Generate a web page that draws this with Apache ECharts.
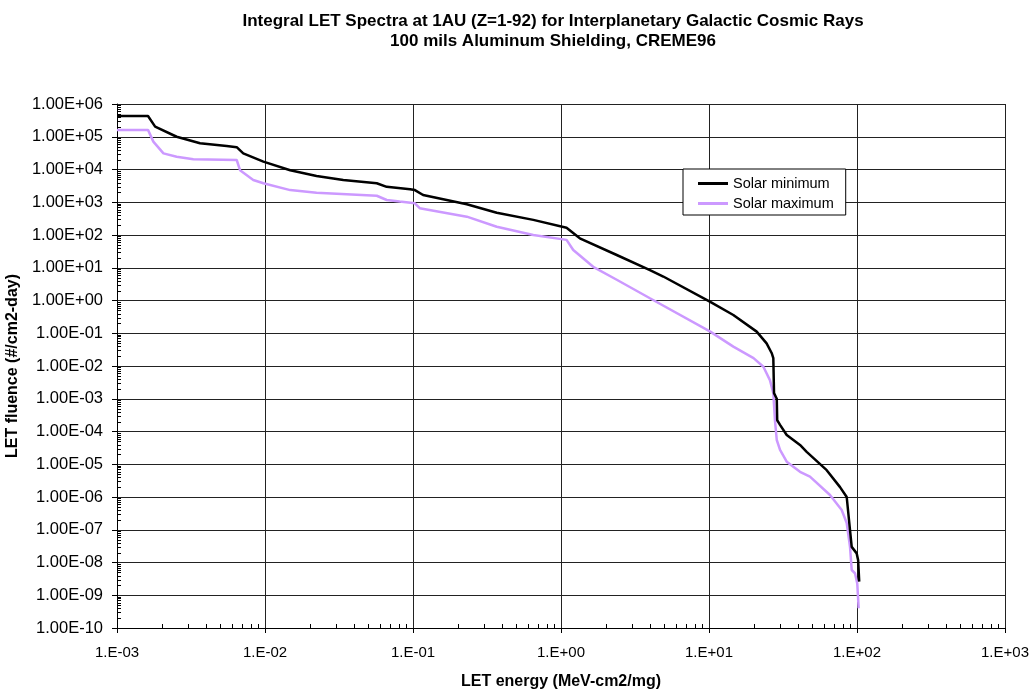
<!DOCTYPE html>
<html>
<head>
<meta charset="utf-8">
<script src="https://cdn.jsdelivr.net/npm/echarts@6/dist/echarts.min.js"></script>
<style>
html,body{margin:0;padding:0;background:#fff;}
#chart{width:1032px;height:691px;}
</style>
</head>
<body>
<div id="chart"></div>
<script>
// ---- data ----
var titleLines = ['Integral LET Spectra at 1AU (Z=1-92) for Interplanetary Galactic Cosmic Rays', '100 mils Aluminum Shielding, CREME96'];
var xAxisTitle = 'LET energy (MeV-cm2/mg)';
var yAxisTitle = 'LET fluence (#/cm2-day)';
var seriesNames = ['Solar minimum', 'Solar maximum'];

var xTickLabels = ['1.E-03', '1.E-02', '1.E-01', '1.E+00', '1.E+01', '1.E+02', '1.E+03'];
var yTickLabels = ['1.00E-10', '1.00E-09', '1.00E-08', '1.00E-07', '1.00E-06', '1.00E-05', '1.00E-04', '1.00E-03',
  '1.00E-02', '1.00E-01', '1.00E+00', '1.00E+01', '1.00E+02', '1.00E+03', '1.00E+04', '1.00E+05', '1.00E+06'];

var minX = [0.001, 0.00162, 0.00181, 0.00253, 0.00364, 0.00551, 0.00644, 0.00713, 0.00975, 0.0148, 0.0223, 0.0338,
  0.0569, 0.0664, 0.0955, 0.103, 0.117, 0.231, 0.368, 0.650, 1.09, 1.34, 2.38, 3.99, 4.91, 10.2, 14.6, 21.0, 24.5,
  26.5, 27.2, 27.5, 28.7, 28.9, 30.2, 33.5, 41.2, 45.7, 62.4, 76.8, 85.2, 89.7, 92.1, 99.5, 101.8, 103.5];
var minY = [4.3e5, 4.3e5, 2.04e5, 1.0e5, 6.3e4, 5.25e4, 4.8e4, 3.1e4, 1.74e4, 9.5e3, 6.3e3, 4.8e3,
  3.8e3, 2.95e3, 2.5e3, 2.35e3, 1.66e3, 870, 480, 290, 166, 79, 24.5, 8.5, 5.4, 0.91, 0.36, 0.112, 0.049,
  0.025, 0.0174, 1.48e-3, 1.0e-3, 2.2e-4, 1.6e-4, 7.8e-5, 3.9e-5, 2.4e-5, 6.6e-6, 2.0e-6, 1.0e-6, 9.8e-8, 3.0e-8, 1.9e-8, 1.17e-8, 2.6e-9];

var maxX = [0.001, 0.00162, 0.00176, 0.00206, 0.00253, 0.00328, 0.00644, 0.00678, 0.00833, 0.00975, 0.0148, 0.0223,
  0.0569, 0.0664, 0.0813, 0.103, 0.111, 0.231, 0.368, 0.650, 1.09, 1.21, 1.65, 2.38, 3.99, 10.2, 14.6, 20.0, 23.3,
  25.8, 27.2, 27.9, 28.7, 30.2, 33.5, 41.2, 48.1, 65.7, 78.8, 85.2, 89.7, 92.1, 96.9, 100.4, 102.6];
var maxY = [1.62e5, 1.62e5, 7.1e4, 3.1e4, 2.45e4, 2.04e4, 1.95e4, 9.5e3, 4.8e3, 3.8e3, 2.35e3, 1.95e3,
  1.58e3, 1.17e3, 1.05e3, 930, 660, 363, 178, 100, 71, 35, 10.7, 4.3, 1.17, 0.112, 0.039, 0.0174, 9.5e-3,
  3.7e-3, 1.48e-3, 2.2e-4, 5.5e-5, 2.75e-5, 1.2e-5, 5.9e-6, 4.2e-6, 1.15e-6, 4.0e-7, 1.6e-7, 3.0e-8, 5.9e-9, 4.7e-9, 2.3e-9, 4.0e-10];

var seriesColors = ['#000000', '#cc99ff'];

// ---- build ----
var X_MIN = 1e-3, X_MAX = 1e3, Y_MIN = 1e-10, Y_MAX = 1e6;
function pairs(xs, ys) { var out = []; for (var i = 0; i < xs.length; i++) out.push([xs[i], ys[i]]); return out; }

// minor tick values (2..9 within each decade) drawn through the axes' own scales
var minorTicks = [];
for (var d = -3; d < 3; d++) for (var m = 2; m <= 9; m++) minorTicks.push([m * Math.pow(10, d), Y_MIN, 0]);
for (var e = -10; e < 6; e++) for (var k = 2; k <= 9; k++) minorTicks.push([X_MIN, k * Math.pow(10, e), 1]);

function expIndex(v, base) { return Math.round(Math.log(v) / Math.LN10) - base; }

var FONT = 'Arial, "Liberation Sans", sans-serif';
var chart = echarts.init(document.getElementById('chart'), null, { renderer: 'canvas' });
chart.setOption({
  animation: false,
  backgroundColor: '#ffffff',
  textStyle: { fontFamily: FONT },
  title: {
    text: titleLines.join('\n'),
    left: 548, top: 6, textAlign: 'center',
    textStyle: { fontFamily: FONT, fontSize: 17, fontWeight: 'bold', color: '#000', lineHeight: 20 }
  },
  legend: {
    data: seriesNames,
    orient: 'vertical',
    left: 683, top: 169,
    padding: [7, 12, 4, 15],
    itemGap: 5,
    itemWidth: 30, itemHeight: 3,
    icon: 'rect',
    borderColor: '#000', borderWidth: 1,
    backgroundColor: '#fff',
    textStyle: { fontFamily: FONT, fontSize: 14.5, color: '#000' }
  },
  grid: { left: 117, right: 27, top: 104, bottom: 63, containLabel: false, outerBoundsMode: 'none' },
  xAxis: {
    type: 'log', logBase: 10, min: X_MIN, max: X_MAX, interval: 1, splitNumber: 6,
    name: xAxisTitle, nameLocation: 'middle', nameGap: 46,
    nameTextStyle: { fontFamily: FONT, fontSize: 16, fontWeight: 'bold', color: '#000' },
    axisLine: { show: true, lineStyle: { color: '#000', width: 1 } },
    axisTick: { show: true, inside: false, length: 5, lineStyle: { color: '#000' } },
    axisLabel: { margin: 17, fontFamily: FONT, fontSize: 15, color: '#000',
      formatter: function (v) { return xTickLabels[expIndex(v, -3)]; } },
    splitLine: { show: true, lineStyle: { color: '#222', width: 1 } }
  },
  yAxis: {
    type: 'log', logBase: 10, min: Y_MIN, max: Y_MAX, interval: 1, splitNumber: 16,
    name: yAxisTitle, nameLocation: 'middle', nameGap: 88,
    nameTextStyle: { fontFamily: FONT, fontSize: 16, fontWeight: 'bold', color: '#000' },
    axisLine: { show: true, lineStyle: { color: '#000', width: 1 } },
    axisTick: { show: true, inside: false, length: 5, lineStyle: { color: '#000' } },
    axisLabel: { margin: 14, fontFamily: FONT, fontSize: 16.5, color: '#000',
      formatter: function (v) { return yTickLabels[expIndex(v, -10)]; } },
    splitLine: { show: true, lineStyle: { color: '#222', width: 1 } }
  },
  series: [
    {
      name: seriesNames[0], type: 'line', data: pairs(minX, minY),
      showSymbol: false, symbol: 'none', z: 4,
      lineStyle: { color: seriesColors[0], width: 2.5 }, itemStyle: { color: seriesColors[0] }
    },
    {
      name: seriesNames[1], type: 'line', data: pairs(maxX, maxY),
      showSymbol: false, symbol: 'none', z: 3,
      lineStyle: { color: seriesColors[1], width: 2.5 }, itemStyle: { color: seriesColors[1] }
    },
    {
      name: 'minorTicks', type: 'custom', silent: true, clip: false, z: 5,
      encode: { x: 0, y: 1 },
      data: minorTicks,
      renderItem: function (params, api) {
        var kind = api.value(2);
        var p;
        if (kind === 0) {
          p = api.coord([api.value(0), Y_MIN]);
          return { type: 'line', shape: { x1: Math.round(p[0]) + 0.5, y1: p[1], x2: Math.round(p[0]) + 0.5, y2: p[1] - 4 }, style: { stroke: '#000', lineWidth: 1 } };
        }
        p = api.coord([X_MIN, api.value(1)]);
        return { type: 'line', shape: { x1: p[0], y1: Math.round(p[1]) + 0.5, x2: p[0] + 4, y2: Math.round(p[1]) + 0.5 }, style: { stroke: '#000', lineWidth: 1 } };
      }
    }
  ]
});
</script>
</body>
</html>
